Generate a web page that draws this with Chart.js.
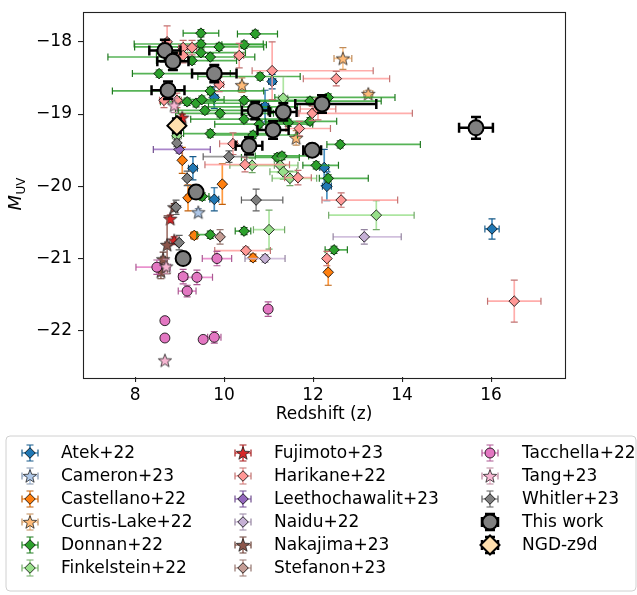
<!DOCTYPE html>
<html><head><meta charset="utf-8">
<script src="https://cdn.jsdelivr.net/npm/chart.js@4"></script>
<style>html,body{margin:0;padding:0;background:#fff}</style>
</head><body>
<canvas id="c" width="637" height="595"></canvas>
<script>
// Each row: [redshift z, M_UV, z error low, z error high, M_UV error]
const atek = [[9.78,-18.77,0.08,0.08,0.15],[11.08,-18.55,0.08,0.08,0.1],[10.92,-18.89,0.08,0.08,0.22],[12.25,-19.74,0.1,0.1,0.25],[12.31,-20.0,0.1,0.1,0.2],[9.30,-19.75,0.1,0.1,0.16],[9.78,-20.18,0.1,0.1,0.16],[16.02,-20.59,0.16,0.16,0.14]];
const cameron = [[9.42,-20.36,0.03,0.03,0.05]];
const castellano = [[9.06,-19.64,0.05,0.05,0.18],[9.96,-19.97,0.05,0.05,0.28],[9.19,-20.16,0.05,0.05,0.18],[9.33,-20.68,0.08,0.08,0.05],[10.65,-20.99,0.05,0.05,0.05],[12.34,-21.19,0.05,0.05,0.18]];
const curtisLake = [[12.67,-18.23,0.2,0.2,0.15],[10.40,-18.60,0.05,0.05,0.1],[13.24,-18.72,0.1,0.1,0.05],[11.62,-19.33,0.05,0.05,0.1]];
const donnan = [[9.48,-17.88,0.4,0.4,0.05],[10.70,-17.89,0.4,0.5,0.05],[9.48,-18.03,1.5,1.4,0.05],[9.89,-18.07,1.9,1.0,0.05],[10.45,-18.04,0.5,0.5,0.05],[9.48,-18.15,1.0,1.0,0.05],[9.69,-18.21,2.3,1.0,0.05],[9.28,-18.26,0.8,1.0,0.05],[8.54,-18.44,0.6,1.6,0.05],[10.81,-18.48,1.4,0.9,0.05],[9.69,-18.68,2.2,1.2,0.05],[9.17,-18.83,0.6,0.6,0.05],[9.37,-18.85,0.5,1.0,0.05],[9.50,-18.80,0.5,0.5,0.05],[9.57,-18.95,0.6,1.5,0.05],[9.91,-18.99,1.0,1.2,0.05],[10.45,-18.81,1.0,1.5,0.05],[10.45,-19.07,1.2,1.0,0.05],[9.69,-19.27,0.6,1.5,0.05],[10.65,-18.90,1.0,1.0,0.05],[10.79,-19.14,1.0,1.2,0.05],[12.34,-18.77,1.2,1.5,0.05],[11.93,-18.82,1.5,1.6,0.05],[11.93,-19.10,1.0,0.6,0.05],[12.61,-19.42,0.3,1.8,0.05],[11.19,-19.60,0.8,0.5,0.05],[11.30,-19.58,0.6,0.6,0.05],[12.07,-19.71,0.3,0.5,0.05],[12.34,-19.89,0.2,0.9,0.05],[10.45,-20.62,0.2,0.15,0.05],[12.47,-20.88,0.2,0.3,0.05],[9.69,-20.67,0.3,0.05,0.05],[9.51,-20.14,0.1,0.15,0.05],[10.65,-19.29,1.0,1.0,0.05],[11.44,-19.12,0.5,0.5,0.05]];
const finkelstein = [[11.33,-18.78,0.1,0.1,0.3],[10.63,-19.71,0.5,0.5,0.1],[11.26,-19.71,0.6,0.4,0.1],[11.33,-19.80,0.3,0.3,0.1],[11.48,-19.89,0.4,0.6,0.1],[13.42,-20.40,1.07,0.85,0.2],[11.01,-20.60,0.35,0.35,0.27],[8.94,-19.30,0.1,0.1,0.1]];
const fujimoto = [[8.79,-20.45,0.03,0.03,0.05],[8.88,-20.75,0.03,0.03,0.05],[9.06,-19.05,0.03,0.03,0.05]];
const harikane = [[9.08,-18.08,0.1,0.1,0.1],[9.28,-18.08,0.1,0.1,0.1],[9.08,-18.19,0.1,0.1,0.1],[10.34,-18.19,0.1,0.1,0.17],[11.08,-18.40,0.45,2.27,0.4],[12.52,-18.51,0.74,1.2,0.1],[9.89,-18.59,0.1,0.1,0.1],[8.65,-18.81,0.1,0.1,0.1],[8.94,-18.81,0.1,0.1,0.1],[10.20,-19.41,0.3,0.1,0.15],[10.47,-19.70,0.9,1.0,0.1],[11.98,-18.99,0.3,2.25,0.1],[12.11,-18.93,0.4,0.4,0.15],[11.69,-19.20,0.3,0.7,0.1],[11.66,-19.88,0.3,0.3,0.1],[12.63,-20.19,0.43,1.27,0.1],[10.49,-20.89,0.7,0.55,0.05],[12.31,-21.0,0.05,0.05,0.1],[16.52,-21.59,0.6,0.6,0.29],[8.72,-18.0,0.05,0.05,0.22]];
const leethochawalit = [[8.99,-19.49,0.58,0.7,0.05]];
const naidu = [[13.15,-20.70,0.7,0.83,0.1],[10.92,-21.0,0.45,0.45,0.05]];
const nakajima = [[8.88,-20.29,0.05,0.05,0.05],[8.72,-20.81,0.05,0.05,0.4],[8.63,-21.01,0.05,0.05,0.1],[8.58,-21.18,0.05,0.05,0.1]];
const stefanon = [[9.91,-20.70,0.05,0.05,0.1]];
const tacchella = [[9.84,-21.00,0.33,0.33,0.1],[8.49,-21.12,0.47,0.3,0.1],[9.08,-21.25,0.1,0.1,0.1],[9.39,-21.26,0.35,0.35,0.1],[9.17,-21.45,0.2,0.2,0.08],[8.67,-21.86,0.0,0.0,0.0],[8.67,-22.10,0.0,0.0,0.0],[9.53,-22.12,0.05,0.05,0.03],[9.78,-22.09,0.15,0.15,0.08],[10.99,-21.70,0.03,0.03,0.1]];
const tang = [[8.67,-22.41,0.0,0.0,0.0],[8.70,-21.11,0.05,0.05,0.1],[8.88,-18.88,0.05,0.05,0.1]];
const whitler = [[10.11,-19.59,0.58,0.4,0.08],[8.94,-19.40,0.05,0.05,0.05],[9.17,-19.89,0.05,0.05,0.1],[8.92,-20.29,0.05,0.05,0.1],[8.99,-20.78,0.05,0.05,0.1],[10.72,-20.19,0.33,0.6,0.15]];
const thisWork = [[8.67,-18.12,0.35,0.35,0.15],[8.85,-18.27,0.35,0.35,0.12],[9.78,-18.44,0.5,0.5,0.12],[8.74,-18.67,0.37,0.37,0.12],[10.70,-18.95,0.3,0.3,0.12],[11.33,-18.97,0.3,0.3,0.12],[12.20,-18.86,0.6,1.22,0.12],[11.10,-19.22,0.35,0.35,0.12],[10.56,-19.44,0.3,0.3,0.12],[11.98,-19.50,0.2,0.2,0.06],[9.37,-20.08,0.12,0.12,0.08],[9.08,-21.0,0.1,0.1,0.06],[15.66,-19.19,0.38,0.38,0.15]];
const ngd = [[8.94,-19.16,0.1,0.1,0.1]];

const xTicks = [8, 10, 12, 14, 16];
const yTicks = [-22, -21, -20, -19, -18];
const xRange = [6.83, 17.66];
const yRange = [-22.64, -17.58];

const series = [
  {label:'Atek+22', rows:atek, color:'#1f77b4', marker:'diamond'},
  {label:'Cameron+23', rows:cameron, color:'#aec7e8', marker:'star'},
  {label:'Castellano+22', rows:castellano, color:'#ff7f0e', marker:'diamond'},
  {label:'Curtis-Lake+22', rows:curtisLake, color:'#ffbb78', marker:'star'},
  {label:'Donnan+22', rows:donnan, color:'#2ca02c', marker:'diamond'},
  {label:'Finkelstein+22', rows:finkelstein, color:'#98df8a', marker:'diamond'},
  {label:'Fujimoto+23', rows:fujimoto, color:'#d62728', marker:'star'},
  {label:'Harikane+22', rows:harikane, color:'#ff9896', marker:'diamond'},
  {label:'Leethochawalit+23', rows:leethochawalit, color:'#9467bd', marker:'diamond'},
  {label:'Naidu+22', rows:naidu, color:'#c5b0d5', marker:'diamond'},
  {label:'Nakajima+23', rows:nakajima, color:'#8c564b', marker:'star'},
  {label:'Stefanon+23', rows:stefanon, color:'#c49c94', marker:'diamond'},
  {label:'Tacchella+22', rows:tacchella, color:'#e377c2', marker:'circle'},
  {label:'Tang+23', rows:tang, color:'#f7b6d2', marker:'star'},
  {label:'Whitler+23', rows:whitler, color:'#7f7f7f', marker:'diamond'},
  {label:'This work', rows:thisWork, color:'#000000', face:'#808080', marker:'circle', big:true},
  {label:'NGD-z9d', rows:ngd, color:'#000000', face:'#ffdfae', marker:'diamond', big:true}
];

const FONT = "'DejaVu Sans', 'Liberation Sans', sans-serif";
const FS = 17;

function starPath(g, cx, cy, R) {
  const r = R * 0.42;
  g.beginPath();
  for (let k = 0; k < 10; k++) {
    const a = -Math.PI / 2 + k * Math.PI / 5;
    const rr = (k % 2) ? r : R;
    g.lineTo(cx + rr * Math.cos(a), cy + rr * Math.sin(a));
  }
  g.closePath();
}
function makeStar(fill) {
  const c = document.createElement('canvas');
  c.width = 16; c.height = 16;
  const g = c.getContext('2d');
  starPath(g, 8, 8.6, 7);
  g.fillStyle = fill; g.fill();
  g.strokeStyle = '#222'; g.lineWidth = 0.8; g.stroke();
  return c;
}
function hexToRgba(hex, a) {
  const n = parseInt(hex.slice(1), 16);
  return `rgba(${(n>>16)&255},${(n>>8)&255},${n&255},${a})`;
}
function darken(hex, f) {
  const n = parseInt(hex.slice(1), 16);
  const r = Math.round(((n>>16)&255)*f), g = Math.round(((n>>8)&255)*f), b = Math.round((n&255)*f);
  return `rgb(${r},${g},${b})`;
}

series.forEach(s => { if (s.marker === 'star') s.starImg = makeStar(s.face || s.color); });

const datasets = series.map((s, i) => {
  const ds = {
    label: s.label,
    data: s.rows.map(r => ({x: r[0], y: r[1]})),
    err: s.rows,
    meta: s,
    order: series.length - i,
    showLine: false,
    pointBackgroundColor: s.face || s.color,
    pointBorderColor: '#000',
    pointBorderWidth: s.big ? 2 : 0.8,
    pointHoverRadius: 0
  };
  if (s.marker === 'star') { ds.pointStyle = s.starImg; ds.pointRadius = 7; }
  else if (s.marker === 'circle') { ds.pointStyle = 'circle'; ds.pointRadius = s.big ? 7.5 : 5; }
  else { ds.pointStyle = 'rectRot'; ds.pointRadius = s.big ? 9.5 : 5.3; }
  return ds;
});

function drawErr(ctx, s, px, py, x0, x1, y0, y1) {
  const big = !!s.big;
  const cap = big ? 5 : 3.5;
  ctx.lineWidth = big ? 2.5 : 1.7;
  ctx.strokeStyle = big ? '#000' : hexToRgba(s.color, 0.8);
  ctx.beginPath();
  ctx.moveTo(x0, py); ctx.lineTo(x1, py);
  ctx.moveTo(px, y0); ctx.lineTo(px, y1);
  ctx.stroke();
  ctx.lineWidth = big ? 2.5 : 1.2;
  ctx.strokeStyle = big ? '#000' : darken(s.color, 0.75);
  ctx.beginPath();
  ctx.moveTo(x0, py - cap); ctx.lineTo(x0, py + cap);
  ctx.moveTo(x1, py - cap); ctx.lineTo(x1, py + cap);
  ctx.moveTo(px - cap, y0); ctx.lineTo(px + cap, y0);
  ctx.moveTo(px - cap, y1); ctx.lineTo(px + cap, y1);
  ctx.stroke();
}

function drawMarker(ctx, s, x, y) {
  if (s.marker === 'star') { ctx.drawImage(s.starImg, x - 8, y - 8); return; }
  ctx.beginPath();
  if (s.marker === 'circle') {
    ctx.arc(x, y, s.big ? 7.5 : 5, 0, Math.PI * 2);
  } else {
    const r = s.big ? 9.5 : 5.3;
    ctx.moveTo(x - r, y); ctx.lineTo(x, y - r); ctx.lineTo(x + r, y); ctx.lineTo(x, y + r); ctx.closePath();
  }
  ctx.fillStyle = s.face || s.color; ctx.fill();
  ctx.lineWidth = s.big ? 2 : 0.8; ctx.strokeStyle = '#000'; ctx.stroke();
}

const errorBars = {
  id: 'errorBars',
  beforeDatasetDraw(chart, args) {
    const ds = chart.data.datasets[args.index];
    const s = ds.meta;
    const {ctx, chartArea: a, scales: {x, y}} = chart;
    ctx.save();
    ctx.beginPath(); ctx.rect(a.left, a.top, a.width, a.height); ctx.clip();
    ds.err.forEach(r => {
      const px = x.getPixelForValue(r[0]), py = y.getPixelForValue(r[1]);
      const x0 = x.getPixelForValue(r[0] - r[2]), x1 = x.getPixelForValue(r[0] + r[3]);
      const y0 = y.getPixelForValue(r[1] - r[4]), y1 = y.getPixelForValue(r[1] + r[4]);
      drawErr(ctx, s, px, py, x0, x1, y0, y1);
    });
    ctx.restore();
  },
  afterDraw(chart) {
    const {ctx, chartArea: a} = chart;
    ctx.save();
    // frame
    ctx.strokeStyle = '#222'; ctx.lineWidth = 1.1;
    ctx.strokeRect(Math.round(a.left) + 0.5, Math.round(a.top) + 0.5, Math.round(a.width), Math.round(a.height));
    // axis titles
    ctx.fillStyle = '#000';
    ctx.font = `${FS}px ${FONT}`;
    ctx.textAlign = 'center'; ctx.textBaseline = 'middle';
    ctx.fillText('Redshift (z)', (a.left + a.right) / 2, 415);
    ctx.save();
    ctx.translate(23, (a.top + a.bottom) / 2);
    ctx.rotate(-Math.PI / 2);
    ctx.textBaseline = 'alphabetic'; ctx.textAlign = 'left';
    ctx.font = `italic ${FS + 1}px ${FONT}`;
    const mW = ctx.measureText('M').width;
    ctx.font = `12px ${FONT}`;
    const sW = ctx.measureText('UV').width;
    const start = -(mW + sW) / 2;
    ctx.font = `italic ${FS + 1}px ${FONT}`;
    ctx.fillText('M', start, -2);
    ctx.font = `12px ${FONT}`;
    ctx.fillText('UV', start + mW + 0.5, 1.5);
    ctx.restore();

    // legend
    const bx = 6, by = 436, bw = 630, bh = 155, rad = 4;
    ctx.beginPath();
    ctx.moveTo(bx + rad, by); ctx.lineTo(bx + bw - rad, by); ctx.quadraticCurveTo(bx + bw, by, bx + bw, by + rad);
    ctx.lineTo(bx + bw, by + bh - rad); ctx.quadraticCurveTo(bx + bw, by + bh, bx + bw - rad, by + bh);
    ctx.lineTo(bx + rad, by + bh); ctx.quadraticCurveTo(bx, by + bh, bx, by + bh - rad);
    ctx.lineTo(bx, by + rad); ctx.quadraticCurveTo(bx, by, bx + rad, by);
    ctx.closePath();
    ctx.fillStyle = 'rgba(255,255,255,0.8)'; ctx.fill();
    ctx.strokeStyle = '#d0d0d0'; ctx.lineWidth = 1; ctx.stroke();

    const colM = [30, 243, 490], colT = [61, 274, 522];
    ctx.font = `${FS}px ${FONT}`;
    ctx.textAlign = 'left'; ctx.textBaseline = 'middle';
    series.forEach((s, i) => {
      const col = Math.floor(i / 6), row = i % 6;
      const mx = colM[col], my = 453 + row * 23;
      const hw = 8, vh = 8;
      drawErr(ctx, s, mx, my, mx - hw, mx + hw, my + vh, my - vh);
      drawMarker(ctx, s, mx, my);
      ctx.fillStyle = '#000';
      ctx.fillText(s.label, colT[col], my + 1);
    });
    ctx.restore();
  }
};

const tickFont = {family: FONT, size: FS};
new Chart(document.getElementById('c'), {
  type: 'scatter',
  data: {datasets},
  options: {
    responsive: false,
    animation: false,
    events: [],
    layout: {padding: {left: 0, top: 7, right: 72, bottom: 178}},
    plugins: {legend: {display: false}, tooltip: {enabled: false}},
    scales: {
      x: {
        type: 'linear', min: xRange[0], max: xRange[1],
        afterBuildTicks: ax => { ax.ticks = xTicks.map(v => ({value: v})); },
        afterFit: ax => { ax.height = 40; ax.paddingLeft = 0; ax.paddingRight = 0; ax.paddingTop = 0; ax.paddingBottom = 0; },
        grid: {drawOnChartArea: false, drawTicks: true, tickLength: 5, color: '#222', lineWidth: 1.1},
        border: {display: false},
        ticks: {font: tickFont, color: '#000', padding: 3, maxRotation: 0, autoSkip: false}
      },
      y: {
        type: 'linear', min: yRange[0], max: yRange[1],
        afterBuildTicks: ax => { ax.ticks = yTicks.map(v => ({value: v})); },
        afterFit: ax => { ax.width = 83; ax.paddingLeft = 0; ax.paddingRight = 0; ax.paddingTop = 0; ax.paddingBottom = 0; },
        grid: {drawOnChartArea: false, drawTicks: true, tickLength: 5, color: '#222', lineWidth: 1.1},
        border: {display: false},
        ticks: {font: tickFont, color: '#000', padding: 6, autoSkip: false,
          callback: v => (v < 0 ? '\u2212' : '') + Math.abs(v)}
      }
    }
  },
  plugins: [errorBars]
});
</script>
</body></html>
